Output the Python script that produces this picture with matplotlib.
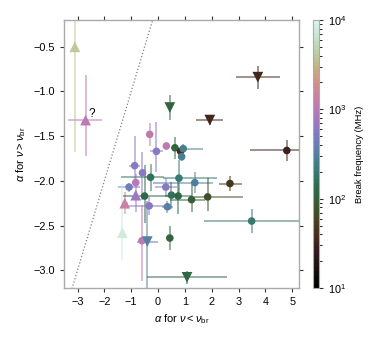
import numpy as np
import matplotlib
matplotlib.use('Agg')
import matplotlib.pyplot as plt
from matplotlib.colors import LinearSegmentedColormap, LogNorm

plt.rcParams['font.family'] = ['Liberation Sans', 'DejaVu Sans']
plt.rcParams['mathtext.fontset'] = 'custom'
plt.rcParams['mathtext.rm'] = 'Liberation Sans'
plt.rcParams['mathtext.it'] = 'Liberation Sans:italic'

# spectral indices below / above the break, with asymmetric errors
a_low = [-3.1, -2.7, 3.72, 1.93, 4.80, 0.44, -0.31, -0.06, 0.31, 0.63,
         0.84, 0.94, 0.88, -0.87, -0.58, -0.28, 0.78, 1.37, 2.68, -1.08,
         -0.83, 0.29, -0.83, -1.24, -0.50, 0.50, 0.75, 1.25, 1.85, -0.33,
         0.35, -0.60, -0.40, 0.44, -1.33, 1.08, 3.49]
a_low_lo = [0, 0.64, 0.81, 0.5, 1.37, 0, 0, 0.25, 0.1, 0,
            0, 0.13, 0.05, 0.2, 0.05, 1.09, 0.6, 1.57, 0.4, 0.4,
            0.05, 0.4, 0.05, 0.12, 0.8, 0.05, 0.5, 0.8, 0.5, 0.9,
            0.2, 0.1, 0.4, 0.05, 0, 1.5, 1.78]
a_low_hi = [0, 0.63, 0.81, 0.5, 0.6, 0, 0, 0.25, 0.1, 0,
            0, 0.74, 0.05, 0.2, 0.05, 0.5, 1.4, 0.68, 0.44, 0.4,
            0.05, 0.4, 0.05, 0.12, 1.0, 0.05, 0.5, 0.5, 1.3, 0.6,
            0.2, 0.1, 0.4, 0.05, 0, 1.48, 1.8]
a_high = [-0.5, -1.32, -0.84, -1.32, -1.66, -1.18, -1.48, -1.67, -1.61, -1.63,
          -1.67, -1.64, -1.73, -1.83, -1.91, -1.96, -1.97, -2.02, -2.03, -2.07,
          -2.02, -2.07, -2.16, -2.25, -2.17, -2.16, -2.17, -2.21, -2.18, -2.28,
          -2.29, -2.67, -2.68, -2.64, -2.58, -3.08, -2.45]
a_high_lo = [1.18, 0.40, 0.13, 0.05, 0.12, 0.14, 0.13, 0.23, 0.05, 0.12,
             0.05, 0.05, 0.05, 0.23, 0.3, 0.15, 0.2, 0.12, 0.08, 0.05,
             0.1, 0.1, 0.19, 0.12, 0.3, 0.15, 0.2, 0.14, 0.16, 0.1,
             0.07, 0.45, 0.55, 0.13, 0.31, 0.07, 0.13]
a_high_hi = [0.35, 0.51, 0.13, 0.05, 0.12, 0.14, 0.13, 0.33, 0.05, 0.12,
             0.05, 0.05, 0.05, 0.33, 0.23, 0.15, 0.2, 0.12, 0.08, 0.05,
             0.1, 0.1, 0.05, 0.12, 0.35, 0.15, 0.2, 0.18, 0.21, 0.1,
             0.07, 0.4, 0.45, 0.13, 0.54, 0.07, 0.13]
nu_br = [4000, 1150, 35, 33, 32, 110, 1100, 550, 1100, 110,
         40, 260, 260, 550, 550, 150, 200, 300, 50, 450,
         1000, 550, 700, 1400, 130, 150, 120, 100, 70, 550,
         320, 1100, 320, 110, 8000, 120, 200]
# '^' lower limit, 'v' upper limit, 'o' measured
kind = ['^', '^', 'v', 'v', 'o', 'v', 'o', 'o', 'o', 'o',
        'o', 'o', 'o', 'o', 'o', 'o', 'o', 'o', 'o', 'o',
        'o', 'o', '^', '^', 'o', 'o', 'o', 'o', 'o', 'o',
        'o', 'o', 'v', 'o', '^', 'v', 'o']

stops = ['#000000', '#16100f', '#2e1a1e', '#48291a', '#454220', '#3a5a30',
         '#2e6a4a', '#3a7a78', '#5080a0', '#7a7ac0', '#a078c0', '#c07ab0',
         '#d08a90', '#c8a880', '#bccb9c', '#c4e2c6', '#dcf2f0']
cmap = LinearSegmentedColormap.from_list('brk', stops, N=64)
norm = LogNorm(10, 1e4)

fig = plt.figure(figsize=(3.75, 3.45), dpi=100)
ax = fig.add_axes([0.171, 0.165, 0.626, 0.777])
cax = fig.add_axes([0.834, 0.165, 0.017, 0.777])

ax.plot([-4, 0], [-4, 0], ':', color='gray', lw=0.9, zorder=1)

for i in range(len(a_low)):
    col = cmap(norm(nu_br[i]))
    ax.errorbar(a_low[i], a_high[i],
                xerr=[[a_low_lo[i]], [a_low_hi[i]]],
                yerr=[[a_high_lo[i]], [a_high_hi[i]]],
                fmt='none', ecolor=col, alpha=0.55, elinewidth=1.3, zorder=2)

for m in ['o', '^', 'v']:
    idx = [i for i in range(len(kind)) if kind[i] == m]
    ax.scatter([a_low[i] for i in idx], [a_high[i] for i in idx],
               c=[nu_br[i] for i in idx], cmap=cmap, norm=norm, marker=m,
               s=30 if m == 'o' else 60, edgecolors='none', zorder=3)

ax.text(-2.58, -1.28, '?', fontsize=8.5)

ax.set_xlim(-3.5, 5.25)
ax.set_ylim(-3.2, -0.2)
ax.set_xticks([-3, -2, -1, 0, 1, 2, 3, 4, 5])
ax.set_yticks([-3.0, -2.5, -2.0, -1.5, -1.0, -0.5])
ax.set_xlabel(r'$\alpha$ for $\nu < \nu_{\rm br}$', fontsize=8)
ax.set_ylabel(r'$\alpha$ for $\nu > \nu_{\rm br}$', fontsize=8)
ax.tick_params(direction='out', length=3, width=0.8, labelsize=7.8,
               top=True, right=True, color='#333333')
for s in ax.spines.values():
    s.set_color('#aaaaaa')
    s.set_linewidth(1.0)

sm = plt.cm.ScalarMappable(cmap=cmap, norm=norm)
cb = fig.colorbar(sm, cax=cax)
cb.set_label('Break frequency (MHz)', fontsize=6.8, labelpad=6)
cb.ax.tick_params(labelsize=7.8, length=3, width=0.8, color='#333333')
cb.ax.tick_params(which='minor', length=1.8, width=0.6)
cb.outline.set_edgecolor('#aaaaaa')

fig.savefig('out.png', dpi=100)
